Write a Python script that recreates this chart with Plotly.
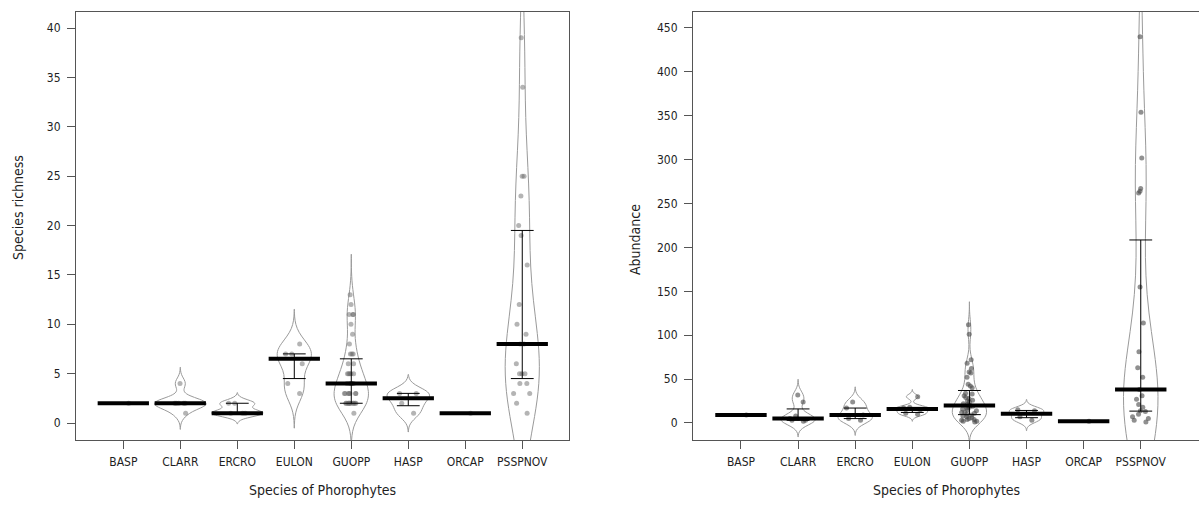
import numpy as np
import plotly.graph_objects as go

species = ["BASP", "CLARR", "ERCRO", "EULON", "GUOPP", "HASP", "ORCAP", "PSSPNOV"]

# Species richness recorded on each phorophyte
rich_basp = [2]
rich_clarr = [1, 2, 2, 2, 2, 2, 4]
rich_ercro = [1, 1, 1, 2, 2]
rich_eulon = [3, 4, 6, 7, 7, 8]
rich_guopp = [1, 2, 2, 2, 2, 2, 2, 2, 2, 2, 2, 2, 3, 3, 3, 3, 3, 3, 3,
              4, 4, 4, 4, 4, 4, 5, 5, 5, 5, 5, 6, 6, 7, 7, 7, 8, 9, 10,
              11, 11, 11, 12, 13]
rich_hasp = [1, 2, 3, 3]
rich_orcap = [1]
rich_psspnov = [1, 2, 3, 3, 4, 4, 5, 5, 5, 6, 8, 8, 9, 10, 12, 16, 19, 20,
                23, 25, 25, 34, 39]

# Abundance (individuals) recorded on each phorophyte
abun_basp = [9]
abun_clarr = [2, 3, 3, 5, 8, 24, 32]
abun_ercro = [3, 5, 9, 17, 24]
abun_eulon = [10, 11, 15, 17, 18, 30]
abun_guopp = [1, 2, 2, 3, 4, 4, 5, 6, 7, 8, 9, 10, 11, 12, 12, 14, 15, 16,
              17, 18, 19, 20, 21, 22, 24, 25, 26, 28, 29, 31, 33, 34, 40,
              42, 44, 52, 57, 58, 62, 68, 72, 101, 112]
abun_hasp = [3, 7, 14, 15]
abun_orcap = [2]
abun_psspnov = [1, 3, 5, 7, 10, 13, 14, 18, 21, 27, 31, 38, 52, 63, 81, 114,
                155, 262, 264, 267, 302, 354, 440]

richness = [rich_basp, rich_clarr, rich_ercro, rich_eulon, rich_guopp,
            rich_hasp, rich_orcap, rich_psspnov]
abundance = [abun_basp, abun_clarr, abun_ercro, abun_eulon, abun_guopp,
             abun_hasp, abun_orcap, abun_psspnov]

W, H = 1199, 509
FONT = "Liberation Sans Narrow, Arial Narrow, DejaVu Sans Condensed, sans-serif"
TEXT = "#1e1e1e"


def bw_nrd0(v):
    v = np.asarray(v, dtype=float)
    hi = np.std(v, ddof=1)
    q75, q25 = np.percentile(v, [75, 25])
    lo = min(hi, (q75 - q25) / 1.34)
    if lo == 0:
        lo = hi or abs(v[0]) or 1.0
    return 0.9 * lo * len(v) ** -0.2


def peak_density(v, bw):
    v = np.asarray(v, dtype=float)
    grid = np.linspace(v.min() - 3 * bw, v.max() + 3 * bw, 512)
    z = (grid[:, None] - v[None, :]) / bw
    dens = np.exp(-0.5 * z ** 2).sum(axis=1) / (len(v) * bw * np.sqrt(2 * np.pi))
    return dens.max()


def add_panel(fig, groups, xa, ya, tag, point_color):
    med_x, med_y, iqr_x, iqr_y = [], [], [], []
    for i, vals in enumerate(groups):
        pos = i + 1
        n = len(vals)
        # density bean
        if len(set(vals)) > 1:
            bw = bw_nrd0(vals)
            half = min(max(peak_density(vals, bw), 0.3), 0.45)
            fig.add_trace(go.Violin(
                x=[pos] * n, y=vals, xaxis=xa, yaxis=ya,
                bandwidth=bw, spanmode="manual",
                span=[min(vals) - 3 * bw, max(vals) + 3 * bw],
                width=2 * half, scalemode="width",
                scalegroup=f"{tag}-{species[i]}",
                line=dict(color="#9a9a9a", width=1), fillcolor="white",
                points=False, box_visible=False, meanline_visible=False,
                hoverinfo="skip", showlegend=False))
        med = float(np.median(vals))
        q1, q3 = np.percentile(vals, [25, 75])
        med_x += [pos - 0.45, pos + 0.45, None]
        med_y += [med, med, None]
        iqr_x += [pos, pos, None, pos - 0.2, pos + 0.2, None, pos - 0.2, pos + 0.2, None]
        iqr_y += [q1, q3, None, q1, q1, None, q3, q3, None]

    fig.add_trace(go.Scatter(x=iqr_x, y=iqr_y, xaxis=xa, yaxis=ya, mode="lines",
                             line=dict(color="black", width=1),
                             hoverinfo="skip", showlegend=False))
    fig.add_trace(go.Scatter(x=med_x, y=med_y, xaxis=xa, yaxis=ya, mode="lines",
                             line=dict(color="black", width=4),
                             hoverinfo="skip", showlegend=False))
    # raw observations, jittered horizontally
    for i, vals in enumerate(groups):
        fig.add_trace(go.Box(
            x=[i + 1] * len(vals), y=vals, xaxis=xa, yaxis=ya,
            boxpoints="all", jitter=0.6, pointpos=0, width=0.6,
            fillcolor="rgba(0,0,0,0)", line=dict(width=0, color="rgba(0,0,0,0)"),
            marker=dict(size=5, color=point_color, line=dict(width=0)),
            hoverinfo="skip", showlegend=False))


fig = go.Figure()
add_panel(fig, richness, "x", "y", "rich", "rgba(105,105,105,0.5)")
add_panel(fig, abundance, "x2", "y2", "abun", "rgba(70,70,70,0.6)")

y_dom = [(H - 440) / H, (H - 12) / H]
axis_common = dict(showgrid=False, zeroline=False, showline=True,
                   linecolor="#555555", linewidth=1, ticks="outside",
                   tickcolor="#555555", ticklen=8, tickwidth=1,
                   tickfont=dict(family=FONT, size=12, color=TEXT))

title_font = dict(family=FONT, size=14, color=TEXT)

fig.update_layout(
    template="none",
    width=W, height=H, margin=dict(l=0, r=0, t=0, b=0),
    paper_bgcolor="white", plot_bgcolor="white",
    font=dict(family=FONT, color=TEXT),
    violinmode="overlay", boxmode="overlay",
    xaxis=dict(domain=[76 / W, 569 / W], range=[0.17, 8.82],
               tickvals=list(range(1, 9)), ticktext=species, mirror=True,
               ticklabelstandoff=3, anchor="y", **axis_common),
    yaxis=dict(domain=y_dom, range=[-1.72, 41.62], tickvals=list(range(0, 41, 5)),
               mirror=True, ticklabelstandoff=4, anchor="x", **axis_common),
    xaxis2=dict(domain=[693 / W, 1.0], range=[0.16, 9.02],
                tickvals=list(range(1, 9)), ticktext=species, mirror=True,
                ticklabelstandoff=3, anchor="y2", **axis_common),
    yaxis2=dict(domain=y_dom, range=[-19.4, 468.2], tickvals=list(range(0, 451, 50)),
                mirror=False, ticklabelstandoff=4, anchor="x2", **axis_common),
    annotations=[
        dict(text="Species of Phorophytes", x=322 / W, y=(H - 490) / H,
             xref="paper", yref="paper", xanchor="center", yanchor="middle",
             showarrow=False, font=title_font),
        dict(text="Species of Phorophytes", x=946 / W, y=(H - 490) / H,
             xref="paper", yref="paper", xanchor="center", yanchor="middle",
             showarrow=False, font=title_font),
        dict(text="Species richness", x=18 / W, y=(H - 208) / H, textangle=-90,
             xref="paper", yref="paper", xanchor="center", yanchor="middle",
             showarrow=False, font=title_font),
        dict(text="Abundance", x=635 / W, y=(H - 240) / H, textangle=-90,
             xref="paper", yref="paper", xanchor="center", yanchor="middle",
             showarrow=False, font=title_font),
    ],
)

fig.write_html("out.html", config={"displayModeBar": False})
